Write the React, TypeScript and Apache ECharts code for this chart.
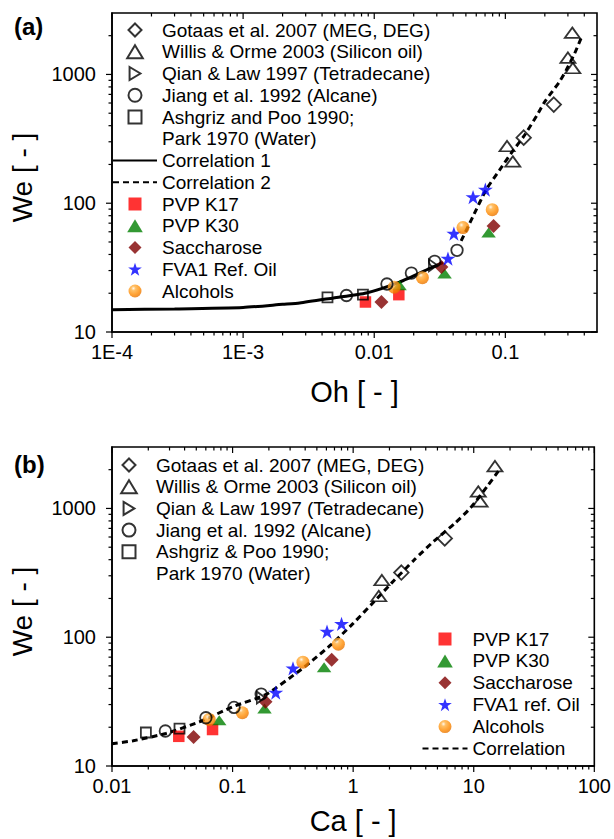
import React, { useEffect, useRef } from 'react';
import * as echarts from 'echarts';

// ---------- axis ticks ----------
const ohTickValues = [1e-4, 1e-3, 0.01, 0.1];
const ohTickLabels = ['1E-4', '1E-3', '0.01', '0.1'];
const caTickValues = [0.01, 0.1, 1, 10, 100];
const caTickLabels = ['0.01', '0.1', '1', '10', '100'];
const weTickValues = [10, 100, 1000];
const weTickLabels = ['10', '100', '1000'];
const minorSteps = [2, 3, 4, 5, 6, 7, 8, 9];
const OH_MIN = 1e-4;
const OH_MAX = 0.5;
const CA_MIN = 0.01;
const CA_MAX = 100;
const WE_MIN = 10;
const WE_MAX = 3000;

// ---------- panel (a): We vs Oh ----------
const gotaasA = [[0.234, 583], [0.138, 323]];
const willisA = [[0.324, 2110], [0.3, 1350], [0.327, 1122], [0.103, 278], [0.114, 211]];
const qianA = [[0.0281, 33.0]];
const jiangA = [[0.00614, 19.2], [0.0125, 23.6], [0.0192, 28.7], [0.0289, 35.4], [0.0428, 43.1]];
const ashgrizA = [[0.0044, 18.6], [0.0082, 19.5]];
const pvpK17A = [[0.00857, 17.1], [0.0154, 19.5]];
const pvpK30A = [[0.0156, 23.1], [0.0344, 28.4], [0.0745, 59.2]];
const saccharoseA = [[0.01135, 17.1], [0.0325, 32.0], [0.0813, 66.5]];
const fva1A = [[0.0365, 37.2], [0.0405, 58.1], [0.0567, 111.7], [0.0704, 127.6]];
const alcoholsA = [[0.0142, 22.3], [0.0233, 26.4], [0.0475, 64.7], [0.0794, 89.1]];
const corr1A = [[1e-4, 14.9], [3e-4, 15.1], [1e-3, 15.5], [0.002, 16.4], [0.0027, 16.8], [0.0049, 18.4], [0.0087, 20.1], [0.0156, 24.4], [0.0281, 32], [0.0334, 34.5]];
const corr2A = [[0.046, 51], [0.057, 80], [0.0716, 128], [0.09, 180], [0.114, 255], [0.138, 330], [0.174, 480], [0.199, 610], [0.259, 880], [0.291, 1080], [0.337, 1450], [0.385, 2000]];

// ---------- panel (b): We vs Ca ----------
const gotaasB = [[5.75, 585], [2.51, 318]];
const willisB = [[15.0, 2130], [10.9, 1355], [11.3, 1133], [1.73, 278], [1.63, 209]];
const qianB = [[0.172, 34]];
const jiangB = [[0.0277, 18.7], [0.0601, 23.7], [0.1028, 28.5], [0.1726, 36.2]];
const ashgrizB = [[0.0191, 18.2], [0.0363, 19.5]];
const pvpK17B = [[0.0358, 17.0], [0.0682, 19.2]];
const pvpK30B = [[0.0775, 22.7], [0.184, 28.0], [0.574, 58.5]];
const saccharoseB = [[0.0475, 16.8], [0.1875, 31.6], [0.664, 66.7]];
const fva1B = [[0.228, 37.2], [0.317, 57.4], [0.607, 110.7], [0.801, 127]];
const alcoholsB = [[0.064, 23.0], [0.1205, 25.9], [0.383, 64.0], [0.754, 88.3]];
const corrB = [[0.01, 14.9], [0.015, 15.7], [0.028, 17.9], [0.053, 22], [0.1, 28.8], [0.19, 36], [0.35, 54], [0.46, 66], [0.66, 88], [1.0, 128], [1.5, 190], [2.07, 262], [3.22, 400], [4.7, 560], [6.9, 760], [9.4, 1010], [12.9, 1480], [16, 1950]];

// ---------- names ----------
const N_GOTAAS = 'Gotaas et al. 2007 (MEG, DEG)';
const N_WILLIS = 'Willis & Orme 2003 (Silicon oil)';
const N_QIAN = 'Qian & Law 1997 (Tetradecane)';
const N_JIANG = 'Jiang et al. 1992 (Alcane)';
const N_ASHGRIZ_A = 'Ashgriz and Poo 1990;';
const N_ASHGRIZ_B = 'Ashgriz & Poo 1990;';
const N_PARK = 'Park 1970 (Water)';
const N_CORR1 = 'Correlation 1';
const N_CORR2 = 'Correlation 2';
const N_CORR = 'Correlation';
const N_K17 = 'PVP K17';
const N_K30 = 'PVP K30';
const N_SACC = 'Saccharose';
const N_FVA_A = 'FVA1 Ref. Oil';
const N_FVA_B = 'FVA1 ref. Oil';
const N_ALC = 'Alcohols';

const FONT = '"Liberation Sans", Arial, Helvetica, sans-serif';
const STAR = 'path://M50,0 L61.8,35.3 L100,35.3 L69.1,57.6 L80.9,95.1 L50,72.4 L19.1,95.1 L30.9,57.6 L0,35.3 L38.2,35.3 Z';
const RIGHT_TRI = 'path://M0,0 L10,6 L0,12 Z';
const DIAMOND = 'path://M7,0 L14,7 L7,14 L0,7 Z';
const TRIANGLE = 'path://M7.5,0 L15,12.5 L0,12.5 Z';
const SQUARE = 'path://M0,0 L10,0 L10,10 L0,10 Z';
const CIRCLE = 'path://M10,5 A5,5 0 1,1 0,5 A5,5 0 1,1 10,5 Z';
const CLEAR = 'rgba(0,0,0,0)';

function labelFormatter(values: number[], labels: string[]) {
  return (v: number) => {
    const i = values.findIndex((t) => Math.abs(Math.log10(v) - Math.log10(t)) < 1e-6);
    return i >= 0 ? labels[i] : '';
  };
}

function tickData(xMajors: number[], yMajors: number[], xMin: number, xMax: number, yMin: number, yMax: number) {
  const out: number[][] = [];
  const inRange = (v: number, lo: number, hi: number) => v >= lo * 0.9999 && v <= hi * 1.0001;
  const minors = (majors: number[], lo: number, hi: number) =>
    majors.flatMap((d) => minorSteps.map((m) => d * m)).filter((v) => v > lo * 1.0001 && v < hi * 0.9999);
  xMajors.filter((v) => inRange(v, xMin, xMax)).forEach((v) => out.push([v, yMin, 0, 1]));
  minors(xMajors, xMin, xMax).forEach((v) => out.push([v, yMin, 0, 0]));
  yMajors.filter((v) => inRange(v, yMin, yMax)).forEach((v) => out.push([xMin, v, 1, 1]));
  minors(yMajors, yMin, yMax).forEach((v) => out.push([xMin, v, 1, 0]));
  return out;
}

function tickSeries(idx: number, data: number[][]) {
  return {
    type: 'custom',
    xAxisIndex: idx,
    yAxisIndex: idx,
    silent: true,
    z: 5,
    clip: false,
    encode: { x: 0, y: 1 },
    data,
    renderItem: (params: any, api: any) => {
      const cs = params.coordSys;
      const p = api.coord([api.value(0), api.value(1)]);
      const kind = api.value(2);
      const len = api.value(3) ? 6 : 3.5;
      const style = { stroke: '#000', lineWidth: 1.2 };
      if (kind === 0) {
        const x = p[0];
        const yb = cs.y + cs.height;
        const yt = cs.y;
        return {
          type: 'group',
          children: [
            { type: 'line', shape: { x1: x, y1: yb, x2: x, y2: yb + len }, style },
            { type: 'line', shape: { x1: x, y1: yt, x2: x, y2: yt + len }, style },
          ],
        };
      }
      const y = p[1];
      const xl = cs.x;
      const xr = cs.x + cs.width;
      return {
        type: 'group',
        children: [
          { type: 'line', shape: { x1: xl - len, y1: y, x2: xl, y2: y }, style },
          { type: 'line', shape: { x1: xr - len, y1: y, x2: xr, y2: y }, style },
        ],
      };
    },
  };
}

function logAxis(gridIndex: number, min: number, max: number, values: number[], labels: string[], name: string, nameGap: number, isY: boolean) {
  return {
    type: 'log',
    logBase: 10,
    gridIndex,
    min,
    max,
    axisLine: { show: true, lineStyle: { color: '#000', width: 1.6 } },
    axisTick: { show: false },
    minorTick: { show: false },
    splitLine: { show: false },
    axisLabel: {
      formatter: labelFormatter(values, labels),
      color: '#000',
      fontSize: 20,
      fontFamily: FONT,
      margin: isY ? 16 : 10,
    },
    name,
    nameLocation: 'middle',
    nameGap,
    nameTextStyle: {
      fontSize: isY ? 28 : 29,
      color: '#000',
      fontFamily: FONT,
      padding: isY ? [0, 10, 0, 0] : 0,
    },
  };
}

const hollow = { color: CLEAR, borderColor: '#000', borderWidth: 1.8 };

function scatter(name: string, data: number[][], idx: number, symbol: string, size: any, itemStyle: any, z = 3) {
  return {
    type: 'scatter',
    name,
    data,
    xAxisIndex: idx,
    yAxisIndex: idx,
    symbol,
    symbolSize: size,
    symbolKeepAspect: true,
    itemStyle,
    z,
    silent: true,
  };
}

function line(name: string, data: number[][], idx: number, dashed: boolean, visible = true) {
  return {
    type: 'line',
    name,
    data,
    xAxisIndex: idx,
    yAxisIndex: idx,
    symbol: 'none',
    smooth: 0.2,
    silent: true,
    z: 2,
    lineStyle: { color: visible ? '#000' : CLEAR, width: 3, type: dashed ? [6, 4] : 'solid' },
    itemStyle: { color: CLEAR, borderWidth: 0 },
  };
}

function panelSeries(idx: number, d: any, names: any) {
  const alcGrad = new echarts.graphic.RadialGradient(0.38, 0.3, 0.7, [
    { offset: 0, color: '#fff6e8' },
    { offset: 0.25, color: '#ffb040' },
    { offset: 0.7, color: '#ff8a00' },
    { offset: 1, color: '#e87400' },
  ]);
  const list: any[] = [];
  d.lines.forEach((l: any) => list.push(line(l.name, l.data, idx, l.dashed)));
  list.push(scatter(N_K17, d.k17, idx, SQUARE, 11.5, { color: '#ff0000' }));
  list.push(scatter(N_K30, d.k30, idx, TRIANGLE, [14.5, 12], { color: '#008000' }));
  list.push(scatter(N_SACC, d.sacc, idx, DIAMOND, 14, { color: '#800000' }));
  list.push(scatter(names.fva, d.fva, idx, STAR, 15, { color: '#0000ff' }));
  list.push(scatter(N_ALC, d.alc, idx, CIRCLE, 13, { color: alcGrad }));
  list.push(scatter(N_GOTAAS, d.gotaas, idx, DIAMOND, 14.5, hollow, 4));
  list.push(scatter(N_WILLIS, d.willis, idx, TRIANGLE, [15, 12.5], hollow, 4));
  list.push(scatter(N_QIAN, d.qian, idx, RIGHT_TRI, [10, 12], hollow, 4));
  list.push(scatter(N_JIANG, d.jiang, idx, CIRCLE, 11.5, hollow, 4));
  list.push(scatter(names.ashgriz, d.ashgriz, idx, SQUARE, 10, hollow, 4));
  // second line of the "Ashgriz ... ; Park 1970 (Water)" legend entry (no mark, no icon)
  list.push(line(N_PARK, [], idx, false, false));
  return list;
}

const legendText = { fontSize: 19, color: '#000', fontFamily: FONT, lineHeight: 20 };
const noDot = { color: CLEAR, borderWidth: 0 };
const lineItem = (name: string) => ({ name, itemStyle: noDot });
const symItem = (name: string) => ({ name });

function legendBlock(left: number, top: number, itemWidth: number, itemGap: number, data: any[]) {
  return {
    left, top, orient: 'vertical', itemWidth, itemHeight: 13, itemGap, padding: 0,
    selectedMode: false, symbolKeepAspect: true, textStyle: legendText, data,
  };
}

export default function App() {
  const ref = useRef<HTMLDivElement>(null);
  useEffect(() => {
    if (!ref.current) return;
    const chart = echarts.init(ref.current, undefined, { renderer: 'svg' });
    const seriesA = panelSeries(0, {
      lines: [
        { name: N_CORR1, data: corr1A, dashed: false },
        { name: N_CORR2, data: corr2A, dashed: true },
      ],
      k17: pvpK17A, k30: pvpK30A, sacc: saccharoseA, fva: fva1A, alc: alcoholsA,
      gotaas: gotaasA, willis: willisA, qian: qianA, jiang: jiangA, ashgriz: ashgrizA,
    }, { fva: N_FVA_A, ashgriz: N_ASHGRIZ_A });
    const seriesB = panelSeries(1, {
      lines: [{ name: N_CORR, data: corrB, dashed: true }],
      k17: pvpK17B, k30: pvpK30B, sacc: saccharoseB, fva: fva1B, alc: alcoholsB,
      gotaas: gotaasB, willis: willisB, qian: qianB, jiang: jiangB, ashgriz: ashgrizB,
    }, { fva: N_FVA_B, ashgriz: N_ASHGRIZ_B });

    const gridBase = { left: 112, width: 485, height: 319, show: true, borderColor: '#000', borderWidth: 1.6, backgroundColor: 'transparent' };
    const option: any = {
      animation: false,
      backgroundColor: '#fff',
      textStyle: { fontFamily: FONT },
      grid: [
        { ...gridBase, top: 13 },
        { ...gridBase, top: 447 },
      ],
      xAxis: [
        logAxis(0, OH_MIN, OH_MAX, ohTickValues, ohTickLabels, 'Oh [ - ]', 45, false),
        logAxis(1, CA_MIN, CA_MAX, caTickValues, caTickLabels, 'Ca [ - ]', 40, false),
      ],
      yAxis: [
        logAxis(0, WE_MIN, WE_MAX, weTickValues, weTickLabels, 'We [ - ]', 76, true),
        logAxis(1, WE_MIN, WE_MAX, weTickValues, weTickLabels, 'We [ - ]', 76, true),
      ],
      legend: [
        legendBlock(112, 20, 44, 1.75, [
          symItem(N_GOTAAS), symItem(N_WILLIS), symItem(N_QIAN), symItem(N_JIANG), symItem(N_ASHGRIZ_A), lineItem(N_PARK),
          lineItem(N_CORR1), lineItem(N_CORR2),
          symItem(N_K17), symItem(N_K30), symItem(N_SACC), symItem(N_FVA_A), symItem(N_ALC),
        ]),
        legendBlock(106, 455, 44, 1.7, [
          symItem(N_GOTAAS), symItem(N_WILLIS), symItem(N_QIAN), symItem(N_JIANG), symItem(N_ASHGRIZ_B), lineItem(N_PARK),
        ]),
        legendBlock(421.5, 629, 45, 1.9, [
          symItem(N_K17), symItem(N_K30), symItem(N_SACC), symItem(N_FVA_B), symItem(N_ALC), lineItem(N_CORR),
        ]),
      ],
      graphic: [
        { type: 'text', left: 14, top: 14, style: { text: '(a)', font: 'bold 24px ' + FONT, fill: '#000' } },
        { type: 'text', left: 14, top: 452, style: { text: '(b)', font: 'bold 24px ' + FONT, fill: '#000' } },
      ],
      series: [
        tickSeries(0, tickData(ohTickValues, weTickValues, OH_MIN, OH_MAX, WE_MIN, WE_MAX)),
        tickSeries(1, tickData(caTickValues, weTickValues, CA_MIN, CA_MAX, WE_MIN, WE_MAX)),
        ...seriesA,
        ...seriesB,
      ],
    };
    chart.setOption(option);
    return () => chart.dispose();
  }, []);
  return <div ref={ref} style={{ position: 'fixed', left: 0, top: 0, width: 614, height: 839, background: '#fff' }} />;
}
